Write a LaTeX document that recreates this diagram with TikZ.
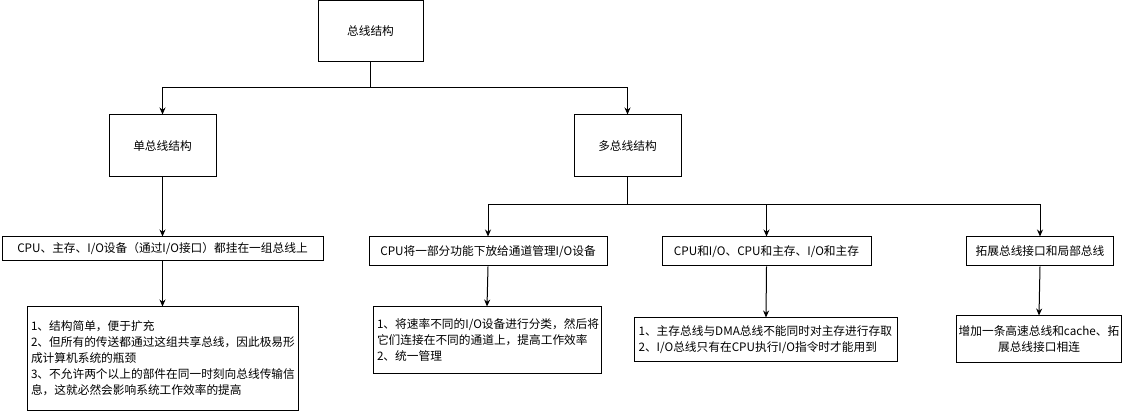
\documentclass[tikz,border=0pt]{standalone}
\usepackage{fontspec}
\setmainfont{Noto Sans CJK SC}
\usetikzlibrary{arrows.meta}
\begin{document}
\begin{tikzpicture}[x=1pt,y=-1pt,
  every node/.style={font=\fontsize{11.7}{16}\selectfont},
  box/.style={draw=black,line width=1pt,fill=white,inner sep=2pt,anchor=center},
  arr/.style={draw=black,line width=1pt,-{Stealth[length=7pt,width=6pt]}}]
\useasboundingbox (0,0) rectangle (1124,411);
% tree nodes
\node[box,minimum width=105pt,minimum height=61pt] (root) at (370.5,31.5) {总线结构};
\node[box,minimum width=107pt,minimum height=62pt] (single) at (162.5,146) {单总线结构};
\node[box,minimum width=107pt,minimum height=62pt] (multi) at (627.5,146) {多总线结构};
\node[box,minimum width=321pt,minimum height=24pt] (cpu1) at (162.5,249) {CPU、主存、I/O设备（通过I/O接口）都挂在一组总线上};
\node[box,minimum width=238pt,minimum height=29pt] (chan) at (488,251.5) {CPU将一部分功能下放给通道管理I/O设备};
\node[box,minimum width=209pt,minimum height=29pt] (cpu2) at (766.5,251.5) {CPU和I/O、CPU和主存、I/O和主存};
\node[box,minimum width=147pt,minimum height=29pt] (ext) at (1040,251.5) {拓展总线接口和局部总线};
\node[box,minimum width=271pt,minimum height=103pt,align=left,text width=263pt] (d1) at (162.5,358.5)
  {1、结构简单，便于扩充\\2、但所有的传送都通过这组共享总线，因此极易形\\成计算机系统的瓶颈\\3、不允许两个以上的部件在同一时刻向总线传输信\\息，这就必然会影响系统工作效率的提高};
\node[box,minimum width=228pt,minimum height=66pt,align=left,text width=220pt] (d2) at (487,340)
  {1、将速率不同的I/O设备进行分类，然后将\\它们连接在不同的通道上，提高工作效率\\2、统一管理};
\node[box,minimum width=263pt,minimum height=44pt,align=left,text width=255pt] (d3) at (766,340)
  {1、主存总线与DMA总线不能同时对主存进行存取\\2、I/O总线只有在CPU执行I/O指令时才能用到};
\node[box,minimum width=163pt,minimum height=47pt,align=center] (d4) at (1039,339.5)
  {增加一条高速总线和cache、拓\\展总线接口相连};
% connectors
\draw[arr] (root.south) -- ++(0,25.5) -| (single.north);
\draw[arr] (root.south) -- ++(0,25.5) -| (multi.north);
\draw[arr] (single.south) -- (cpu1.north);
\draw[arr] (cpu1.south) -- (d1.north);
\draw[arr] (multi.south) -- ++(0,27) -| (chan.north);
\draw[arr] (multi.south) -- ++(0,27) -| (cpu2.north);
\draw[arr] (multi.south) -- ++(0,27) -| (ext.north);
\draw[arr] (chan.south) -- (d2.north);
\draw[arr] (cpu2.south) -- (d3.north);
\draw[arr] (ext.south) -- (d4.north);
\end{tikzpicture}
\end{document}
